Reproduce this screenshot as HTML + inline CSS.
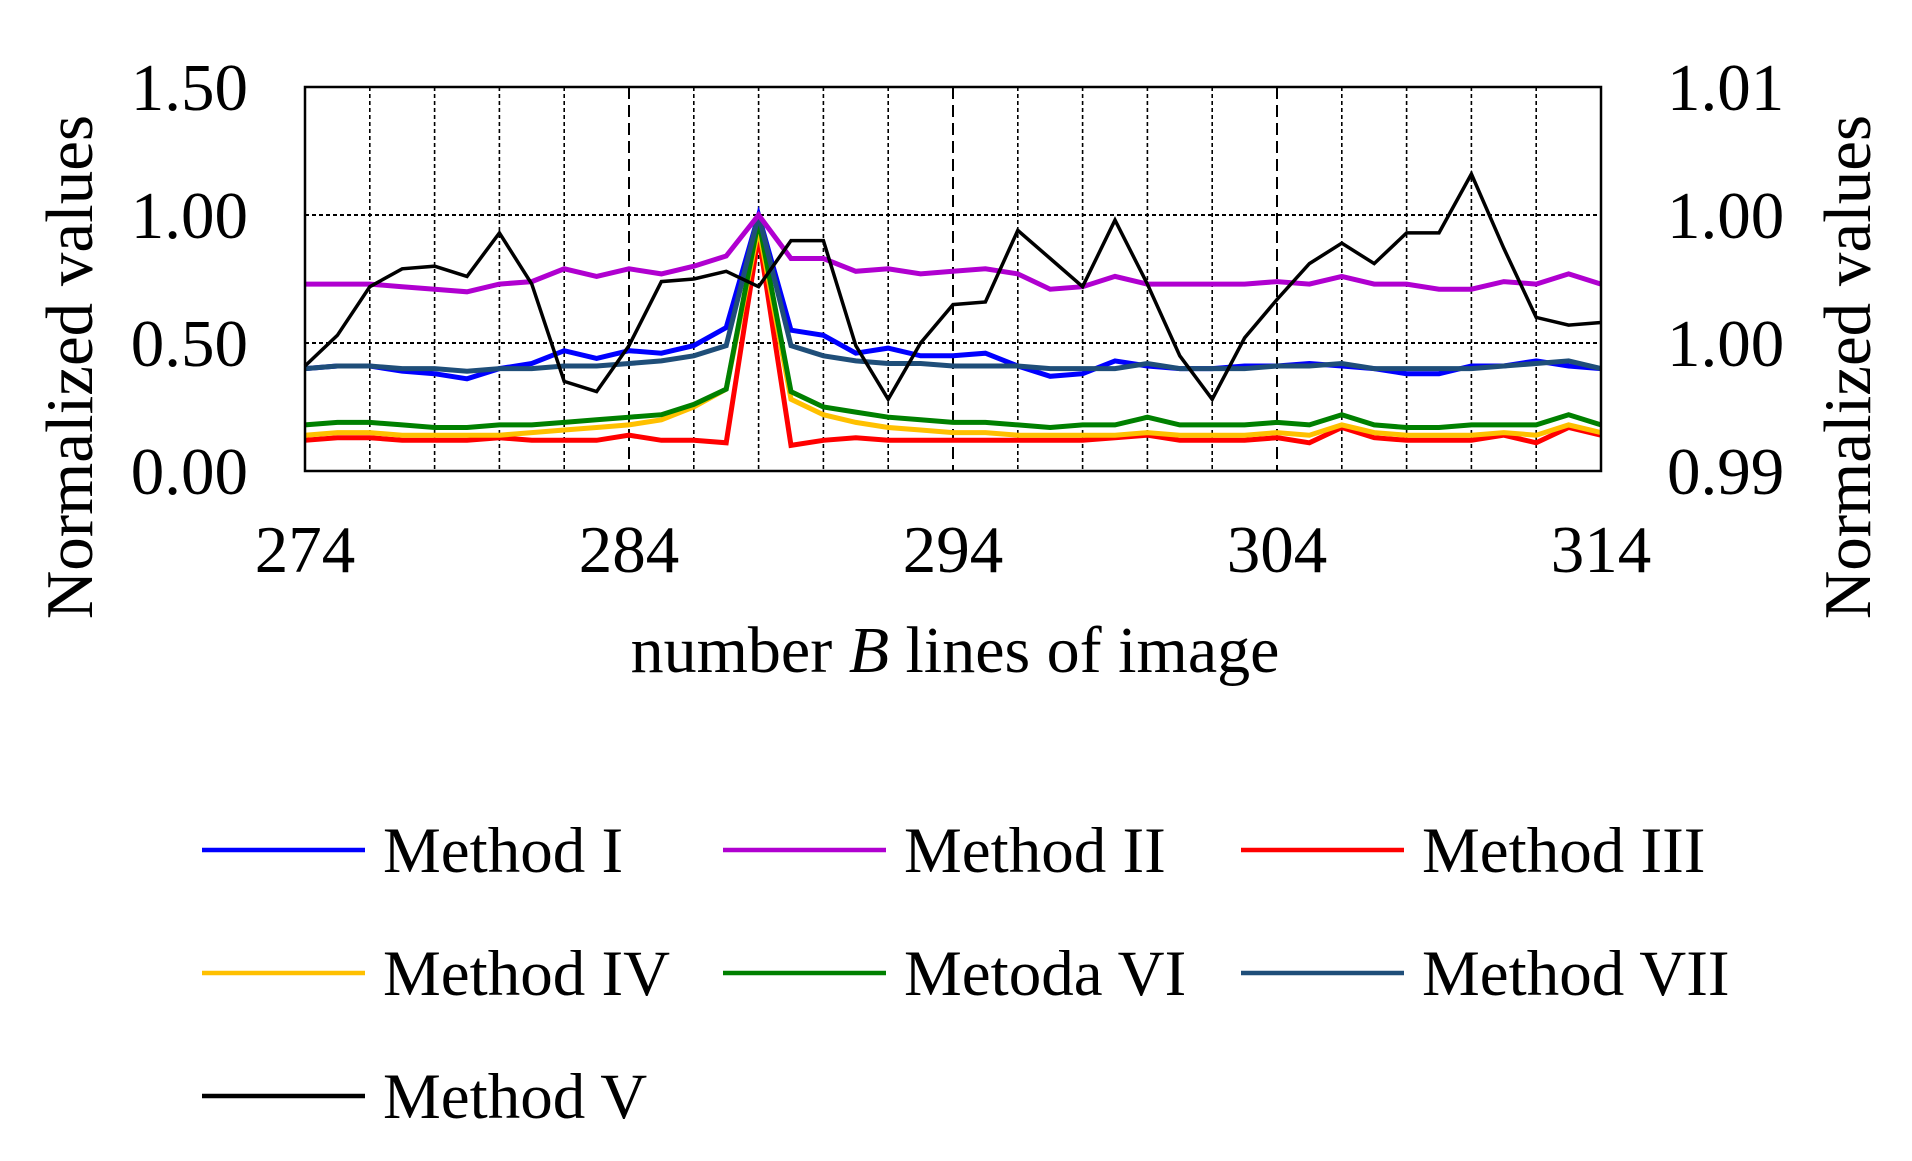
<!DOCTYPE html>
<html><head><meta charset="utf-8"><style>
html,body{margin:0;padding:0;background:#fff;}
svg{display:block;}
text{font-family:"Liberation Serif",serif;fill:#000;}
</style></head><body>
<svg id="s" width="1912" height="1161" viewBox="0 0 1912 1161" xmlns="http://www.w3.org/2000/svg">
<rect width="1912" height="1161" fill="#fff"/>
<g id="grid"></g>
<g id="series"></g>
<rect x="305" y="87" width="1296" height="384" fill="none" stroke="#000" stroke-width="2.5"/>
<g font-size="67" text-anchor="end">
<text x="248" y="494">0.00</text>
<text x="248" y="366">0.50</text>
<text x="248" y="238">1.00</text>
<text x="248" y="110">1.50</text>
</g>
<g font-size="67" text-anchor="start">
<text x="1667" y="494">0.99</text>
<text x="1667" y="366">1.00</text>
<text x="1667" y="238">1.00</text>
<text x="1667" y="110">1.01</text>
</g>
<g font-size="67" text-anchor="middle">
<text x="305" y="572">274</text>
<text x="629" y="572">284</text>
<text x="953" y="572">294</text>
<text x="1277" y="572">304</text>
<text x="1601" y="572">314</text>
</g>
<text x="955" y="672" font-size="66" text-anchor="middle">number <tspan font-style="italic">B</tspan> lines of image</text>
<text transform="translate(92,367) rotate(-90)" font-size="67" text-anchor="middle">Normalized values</text>
<text transform="translate(1870,367) rotate(-90)" font-size="67" text-anchor="middle">Normalized values</text>
<g id="legend" font-size="65"></g>
</svg>
<script>
const NS="http://www.w3.org/2000/svg";
const X0=305,DX=1296/40,Y0=471,YS=256;
const g=document.getElementById('grid');
function el(p,tag,a){const e=document.createElementNS(NS,tag);for(const k in a)e.setAttribute(k,a[k]);p.appendChild(e);return e;}
for(let i=2;i<40;i+=2){const x=X0+i*DX;const ten=(i%10===0);
 el(g,'line',{x1:x,y1:87,x2:x,y2:471,stroke:'#000','stroke-width':ten?2:1.6,'stroke-dasharray':ten?'12,6':'4,3'});}
[0.5,1.0].forEach(v=>{const y=Y0-v*YS;el(g,'line',{x1:305,y1:y,x2:1601,y2:y,stroke:'#000','stroke-width':2,'stroke-dasharray':'4,3'});});
const S=[
["#ff0000",5,[0.12,0.13,0.13,0.12,0.12,0.12,0.13,0.12,0.12,0.12,0.14,0.12,0.12,0.11,0.92,0.10,0.12,0.13,0.12,0.12,0.12,0.12,0.12,0.12,0.12,0.13,0.14,0.12,0.12,0.12,0.13,0.11,0.17,0.13,0.12,0.12,0.12,0.14,0.11,0.17,0.14]],
["#ffc000",5,[0.14,0.15,0.15,0.14,0.14,0.14,0.14,0.15,0.16,0.17,0.18,0.20,0.25,0.32,0.95,0.28,0.22,0.19,0.17,0.16,0.15,0.15,0.14,0.14,0.14,0.14,0.15,0.14,0.14,0.14,0.15,0.14,0.18,0.15,0.14,0.14,0.14,0.15,0.14,0.18,0.15]],
["#008000",5,[0.18,0.19,0.19,0.18,0.17,0.17,0.18,0.18,0.19,0.20,0.21,0.22,0.26,0.32,0.98,0.31,0.25,0.23,0.21,0.20,0.19,0.19,0.18,0.17,0.18,0.18,0.21,0.18,0.18,0.18,0.19,0.18,0.22,0.18,0.17,0.17,0.18,0.18,0.18,0.22,0.18]],
["#0000ff",5,[0.40,0.41,0.41,0.39,0.38,0.36,0.40,0.42,0.47,0.44,0.47,0.46,0.49,0.56,1.0,0.55,0.53,0.46,0.48,0.45,0.45,0.46,0.41,0.37,0.38,0.43,0.41,0.40,0.40,0.41,0.41,0.42,0.41,0.40,0.38,0.38,0.41,0.41,0.43,0.41,0.40]],
["#1f4e79",5,[0.40,0.41,0.41,0.40,0.40,0.39,0.40,0.40,0.41,0.41,0.42,0.43,0.45,0.49,1.0,0.49,0.45,0.43,0.42,0.42,0.41,0.41,0.41,0.40,0.40,0.40,0.42,0.40,0.40,0.40,0.41,0.41,0.42,0.40,0.40,0.40,0.40,0.41,0.42,0.43,0.40]],
["#b000d0",5,[0.73,0.73,0.73,0.72,0.71,0.70,0.73,0.74,0.79,0.76,0.79,0.77,0.80,0.84,1.0,0.83,0.83,0.78,0.79,0.77,0.78,0.79,0.77,0.71,0.72,0.76,0.73,0.73,0.73,0.73,0.74,0.73,0.76,0.73,0.73,0.71,0.71,0.74,0.73,0.77,0.73]],
["#000000",3.5,[0.41,0.53,0.72,0.79,0.80,0.76,0.93,0.73,0.35,0.31,0.49,0.74,0.75,0.78,0.72,0.90,0.90,0.49,0.28,0.50,0.65,0.66,0.94,0.83,0.72,0.98,0.73,0.45,0.28,0.52,0.67,0.81,0.89,0.81,0.93,0.93,1.16,0.87,0.60,0.57,0.58]]
];
const sg=document.getElementById('series');
S.forEach(([c,w,d])=>{el(sg,'polyline',{points:d.map((v,i)=>(X0+i*DX).toFixed(1)+','+(Y0-v*YS).toFixed(1)).join(' '),fill:'none',stroke:c,'stroke-width':w,'stroke-linejoin':'miter'});});
const L=[["Method I","#0000ff",0,0],["Method II","#b000d0",1,0],["Method III","#ff0000",2,0],
["Method IV","#ffc000",0,1],["Metoda VI","#008000",1,1],["Method VII","#1f4e79",2,1],["Method V","#000000",0,2]];
const lg=document.getElementById('legend');
const cx=[202,723,1241],ry=[850,973,1096];
L.forEach(([t,c,col,row])=>{const x=cx[col],y=ry[row];
 el(lg,'line',{x1:x,y1:y,x2:x+163,y2:y,stroke:c,'stroke-width':4.5});
 const tx=el(lg,'text',{x:x+181,y:y+22});tx.textContent=t;});
</script>
</body></html>
